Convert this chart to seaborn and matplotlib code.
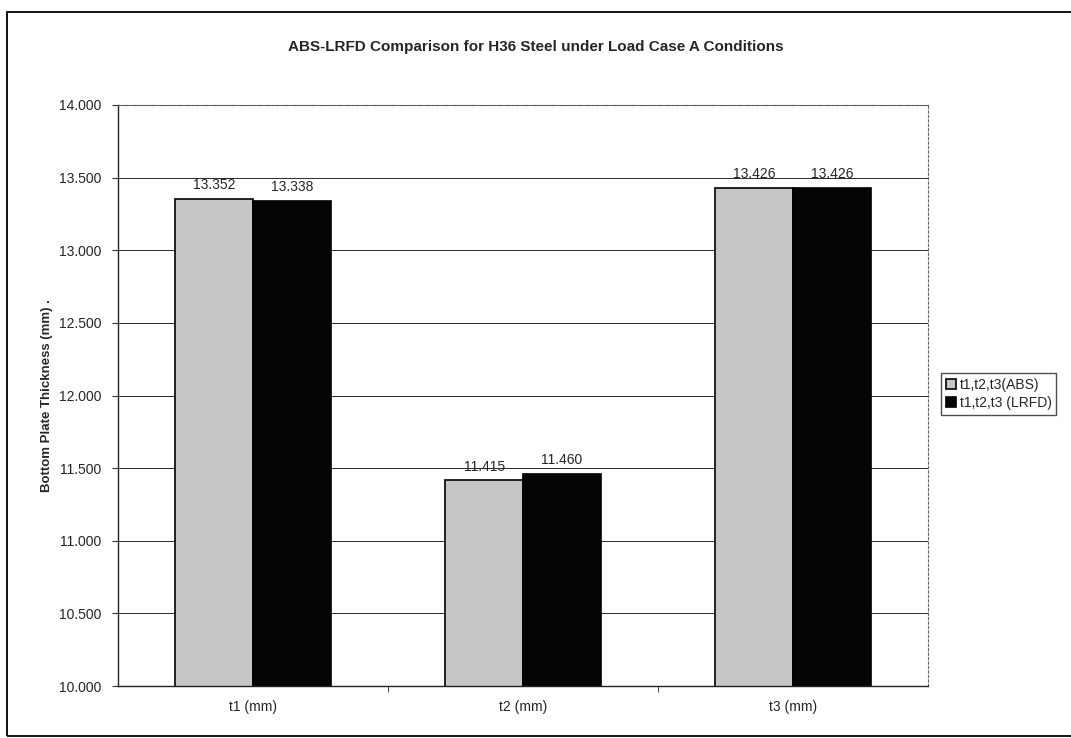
import numpy as np
import pandas as pd
import seaborn as sns
import matplotlib
matplotlib.use("Agg")
import matplotlib.pyplot as plt
from matplotlib.patches import Rectangle
from matplotlib.ticker import FixedLocator

categories = ["t1 (mm)", "t2 (mm)", "t3 (mm)"]
series = ["t1,t2,t3(ABS)", "t1,t2,t3 (LRFD)"]
abs_values = [13.352, 11.415, 13.426]
lrfd_values = [13.338, 11.460, 13.426]
yticks = [10.0, 10.5, 11.0, 11.5, 12.0, 12.5, 13.0, 13.5, 14.0]

rows = []
for i, c in enumerate(categories):
    rows.append([c, abs_values[i], series[0]])
    rows.append([c, lrfd_values[i], series[1]])
data = pd.DataFrame(rows, columns=["Category", "Thickness", "Series"])

sns.set_style("white")
plt.rcParams["font.family"] = ["Liberation Sans", "DejaVu Sans"]

W, H = 1071, 738
fig = plt.figure(figsize=(W / 100, H / 100), dpi=100)
ax = fig.add_axes([118 / W, 1 - 686 / H, (928 - 118) / W, (686 - 105) / H])

ax.yaxis.grid(True, color="#2a2a2a", linewidth=0.7)
ax.set_axisbelow(True)

sns.barplot(x="Category", y="Thickness", hue="Series", data=data, ax=ax,
            palette=["#c6c6c6", "#050505"], width=0.575, gap=0,
            edgecolor="black", linewidth=1.2)

ax.set_ylim(10.0, 14.0)
ax.set_yticks(yticks)
ax.set_yticklabels(["%.3f" % v for v in yticks], fontsize=10)
for cont in ax.containers:
    ax.bar_label(cont, labels=["%.3f" % v for v in cont.datavalues],
                 padding=5, fontsize=10)

ax.set_xlabel("")
ax.set_ylabel("Bottom Plate Thickness (mm) .", fontsize=9.5, fontweight="bold", labelpad=4)
ax.tick_params(axis="x", length=0, labelsize=10, pad=10)
ax.tick_params(axis="y", length=4, direction="out", left=True, color="#333333", pad=8)
ax.xaxis.set_minor_locator(FixedLocator([0.5, 1.5]))
ax.tick_params(axis="x", which="minor", length=4, bottom=True, direction="out")
for s in ["left", "bottom"]:
    ax.spines[s].set_color("#222222")
    ax.spines[s].set_linewidth(1)
ax.spines["top"].set_visible(True)
ax.spines["top"].set_linestyle((0, (6, 2)))
ax.spines["top"].set_color("#666666")
ax.spines["right"].set_visible(True)
ax.spines["right"].set_linestyle((0, (2, 2)))
ax.spines["right"].set_color("#666666")

ax.legend(loc="center left", bbox_to_anchor=(941 / W, 1 - 394 / H),
          bbox_transform=fig.transFigure, fontsize=10, frameon=True,
          fancybox=False, edgecolor="#222222", handlelength=0.7,
          handleheight=0.7, handletextpad=0.3, borderpad=0.35,
          labelspacing=0.3, borderaxespad=0)

fig.text(0.5, 1 - 47 / H, "ABS-LRFD Comparison for H36 Steel under Load Case A Conditions",
         ha="center", va="center", fontsize=11, fontweight="bold")

fig.patches.append(Rectangle((7 / W, 2 / H), 1.2, 1 - 14 / H, transform=fig.transFigure,
                             fill=False, edgecolor="black", linewidth=1.3, clip_on=False))

fig.savefig("out.png", dpi=100)
